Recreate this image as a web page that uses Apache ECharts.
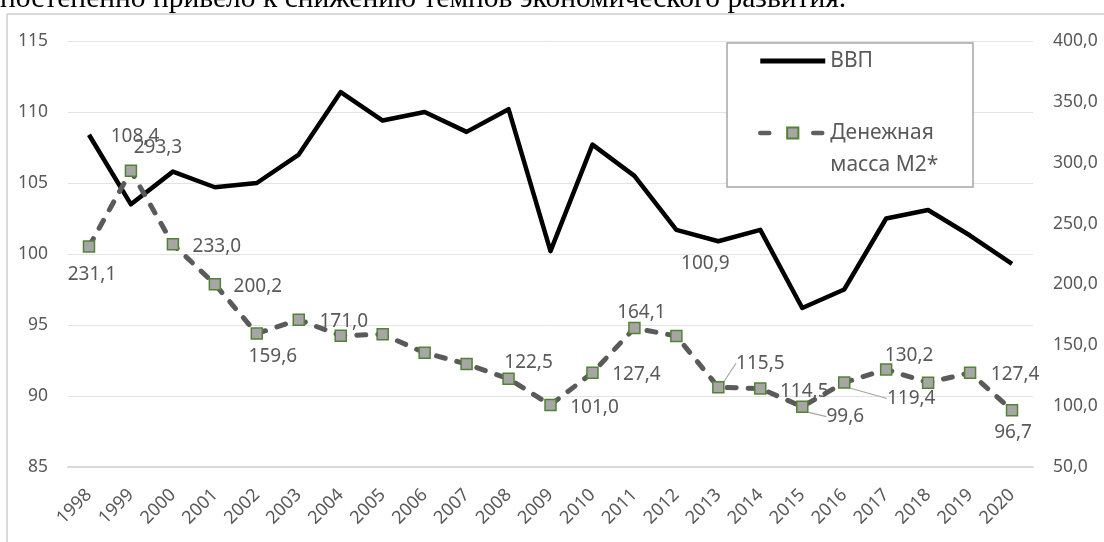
<!DOCTYPE html>
<html>
<head>
<meta charset="utf-8">
<script src="https://cdn.jsdelivr.net/npm/echarts@6/dist/echarts.min.js"></script>
<style>
html,body{margin:0;padding:0;background:#fff;}
#c{width:1104px;height:542px;}
</style>
</head>
<body>
<div id="c"></div>
<script>
// ---- data ----
const years = ['1998','1999','2000','2001','2002','2003','2004','2005','2006','2007','2008','2009','2010','2011','2012','2013','2014','2015','2016','2017','2018','2019','2020'];
const gdp = [108.4,103.5,105.8,104.7,105.0,107.0,111.4,109.4,110.0,108.6,110.2,100.2,107.7,105.5,101.7,100.9,101.7,96.2,97.5,102.5,103.1,101.3,99.3];
const m2 = [231.1,293.3,233.0,200.2,159.6,171.0,157.9,159.0,143.9,134.6,122.5,101.0,127.4,164.1,157.6,115.5,114.5,99.6,119.4,130.2,119.3,127.4,96.7];
const gdpLabels = ['108,4',null,null,null,null,null,null,null,null,null,null,null,null,null,null,'100,9',null,null,null,null,null,null,null];
const m2Labels = ['231,1','293,3','233,0','200,2','159,6','171,0',null,null,null,null,'122,5','101,0','127,4','164,1',null,'115,5','114,5','99,6','119,4','130,2',null,'127,4','96,7'];
const leftTicks = {min:85, max:115, interval:5};
const rightTicks = {min:50, max:400, interval:50};
const seriesNames = ['ВВП','Денежная масса М2*'];
const headText = 'постепенно привело к снижению темпов экономического развития.';

// ---- label placement (style, not data) ----
const m2Place = {0:[3,28],1:[27,-23],2:[44,2],3:[43,2],4:[16,23],5:[45,2],10:[20,-16],11:[44,3],12:[44,2],13:[7,-16],15:[42,-24],16:[44,3],17:[43,10],18:[67,16],19:[23,-14],21:[45,2],22:[1,22]};
const m2Leader = {15:true,17:true,18:true};
const gdpPlace = {0:[46,2],15:[-13,22]};

const FONT = 'Noto Sans';
const GREY = '#595959';

const chart = echarts.init(document.getElementById('c'), null, {renderer:'canvas'});

const gdpData = gdp.map((v,i)=>({
  value:v,
  label:{show: gdpLabels[i]!=null, formatter: gdpLabels[i]||''}
}));
const m2Data = m2.map((v,i)=>({
  value:v,
  label:{show: m2Labels[i]!=null, formatter: m2Labels[i]||''},
  labelLine:{show: !!m2Leader[i]}
}));

const option = {
  animation:false,
  backgroundColor:'#fff',
  grid:{left:68,right:71,top:41,bottom:75,containLabel:false},
  legend:{
    orient:'vertical',
    left:758, top:45, padding:0,
    itemWidth:65, itemHeight:14, itemGap:8,
    textStyle:{fontFamily:FONT,fontSize:21,color:GREY,lineHeight:32},
    data:[
      {name:seriesNames[0], icon:'path://M0,0 L65,0 L65,5 L0,5 Z', itemStyle:{color:'#000'}},
      {name:seriesNames[1], lineStyle:{width:4.5,type:[9,44],cap:'round',color:'#5f5f5f'}}
    ],
    formatter:function(n){ return n==='Денежная масса М2*' ? '\nДенежная\nмасса М2*' : n; },
    z:10
  },
  graphic:[
    {type:'text',z:1,style:{text:headText,x:0,y:14,font:'29.5px "Liberation Serif"',fill:'#000',verticalAlign:'bottom'}},
    {type:'line',z:1,shape:{x1:7,y1:14,x2:1104,y2:14},style:{stroke:'#d9d9d9',lineWidth:2}},
    {type:'line',z:1,shape:{x1:7,y1:14,x2:7,y2:542},style:{stroke:'#d9d9d9',lineWidth:2}},
    {type:'rect',z:5,shape:{x:727,y:43,width:246,height:144},style:{fill:'#fff',stroke:'#a6a6a6',lineWidth:1.5}}
  ],
  xAxis:{
    type:'category',
    data:years,
    boundaryGap:true,
    axisLine:{show:true,lineStyle:{color:'#d9d9d9',width:2}},
    axisTick:{show:false},
    axisLabel:{rotate:45,margin:25,fontFamily:FONT,fontSize:18,color:GREY,interval:0}
  },
  yAxis:[
    {type:'value',min:leftTicks.min,max:leftTicks.max,interval:leftTicks.interval,
     axisLine:{show:false},axisTick:{show:false},
     axisLabel:{margin:20,fontFamily:FONT,fontSize:17.5,color:GREY},
     splitLine:{show:true,lineStyle:{color:'#e3e3e3',width:1}}},
    {type:'value',min:rightTicks.min,max:rightTicks.max,interval:rightTicks.interval,
     axisLine:{show:false},axisTick:{show:false},
     axisLabel:{margin:20,fontFamily:FONT,fontSize:17.5,color:GREY,align:'left',
       formatter:function(v){return v.toFixed(1).replace('.',',');}},
     splitLine:{show:false}}
  ],
  series:[
    {name:seriesNames[0],type:'line',yAxisIndex:0,data:gdpData,
     symbol:'circle',symbolSize:0.1,showSymbol:true,showAllSymbol:true,z:6,
     lineStyle:{color:'#000',width:4.5,join:'round'},
     itemStyle:{color:'#000'},
     label:{position:'inside',color:GREY,fontFamily:FONT,fontSize:19,textBorderWidth:0,align:'center',verticalAlign:'middle'},
     labelLayout:function(p){const o=gdpPlace[p.dataIndex];return o?{dx:o[0],dy:o[1]}:{};}
    },
    {name:seriesNames[1],type:'line',yAxisIndex:1,data:m2Data,
     symbol:'rect',symbolSize:11,showAllSymbol:true,z:7,
     lineStyle:{color:'#5a5a5a',width:5,type:[9,12],cap:'round'},
     itemStyle:{color:'#a6a6a6',borderColor:'#548235',borderWidth:1.5},
     label:{position:'inside',color:GREY,fontFamily:FONT,fontSize:19,textBorderWidth:0,align:'center',verticalAlign:'middle'},
     labelLine:{lineStyle:{color:'#a6a6a6',width:1.2}},
     labelLayout:function(p){const o=m2Place[p.dataIndex];return o?{dx:o[0],dy:o[1]}:{};}
    }
  ]
};
chart.setOption(option);
</script>
</body>
</html>
